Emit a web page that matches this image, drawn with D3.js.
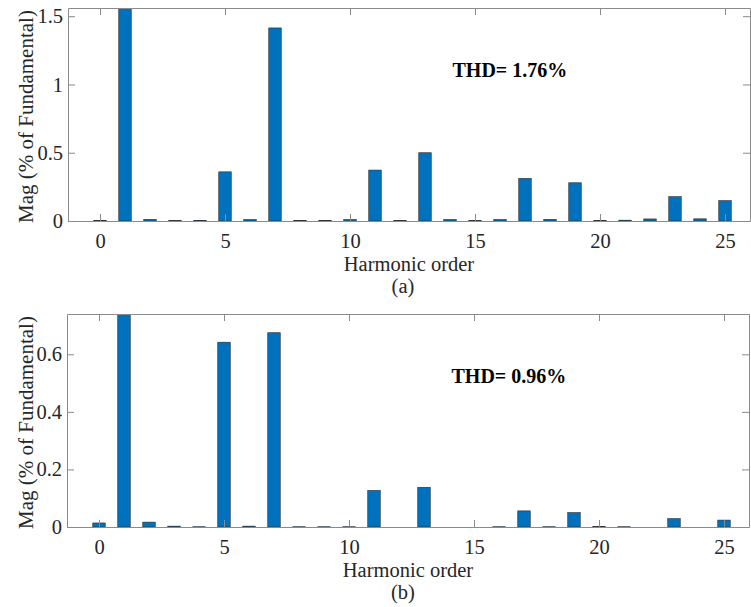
<!DOCTYPE html>
<html>
<head>
<meta charset="utf-8">
<script src="https://cdn.jsdelivr.net/npm/d3@7"></script>
<style>
  body { margin: 0; background: #fff; }
  svg text { font-family: 'Liberation Serif', 'DejaVu Serif', serif; fill: #262626; }
</style>
</head>
<body>
<div id="chart"></div>
<script>
// harmonic orders 0..25
var harmonics = d3.range(0, 26);

// (a) magnitude, % of fundamental (fundamental bar runs off the top)
var magA = [0.005, 100, 0.012, 0.003, 0.005, 0.36, 0.011, 1.414, 0.005, 0.005,
            0.011, 0.373, 0.003, 0.50, 0.011, 0.003, 0.011, 0.312, 0.012, 0.28,
            0.004, 0.006, 0.015, 0.178, 0.016, 0.149];

// (b) magnitude, % of fundamental
var magB = [0.014, 100, 0.017, 0.003, 0.001, 0.642, 0.003, 0.675, 0.001, 0.001,
            0.001, 0.127, 0.0, 0.138, 0.0, 0.0, 0.001, 0.056, 0.001, 0.050,
            0.002, 0.001, 0.0, 0.029, 0.0, 0.024];

var xTicks = [0, 5, 10, 15, 20, 25];
var yTicksA = [0, 0.5, 1, 1.5];
var yTicksB = [0, 0.2, 0.4, 0.6];
var thdA = "THD= 1.76%";
var thdB = "THD= 0.96%";

var svgWidth = 751;
var svgHeight = 607;

var svg = d3.select("#chart")
  .append("svg")
  .attr("width", svgWidth)
  .attr("height", svgHeight);

function drawPanel(cfg) {
  var left = cfg.left, right = cfg.right, top = cfg.top, bottom = cfg.bottom;

  var x = d3.scaleLinear()
    .domain([-1.28, 26])
    .range([left, right]);

  var y = d3.scaleLinear()
    .domain([0, cfg.ymax])
    .range([bottom, top]);

  var clipId = "clip-" + cfg.name;
  svg.append("clipPath")
    .attr("id", clipId)
    .append("rect")
    .attr("x", left)
    .attr("y", top)
    .attr("width", right - left)
    .attr("height", bottom - top);

  var barW = x(0.5) - x(0);

  svg.append("g")
    .attr("clip-path", "url(#" + clipId + ")")
    .selectAll("rect")
    .data(harmonics)
    .enter()
    .append("rect")
    .attr("x", d => x(d) - barW / 2)
    .attr("y", (d, i) => y(cfg.values[i]))
    .attr("width", barW)
    .attr("height", (d, i) => bottom - y(cfg.values[i]))
    .attr("fill", "#0072BD")
    .attr("stroke", "#2a2a2a")
    .attr("stroke-width", 0.6);

  // axes on top of the bars, ticks pointing inward
  var fmt = d => String(d);
  var bottomAxis = d3.axisBottom(x).tickValues(xTicks).tickFormat(fmt)
    .tickSizeInner(-7).tickSizeOuter(0).tickPadding(12);
  var topAxis = d3.axisTop(x).tickValues(xTicks)
    .tickSizeInner(-7).tickSizeOuter(0).tickFormat("");
  var leftAxis = d3.axisLeft(y).tickValues(cfg.yTicks).tickFormat(fmt)
    .tickSizeInner(-7).tickSizeOuter(0).tickPadding(5);
  var rightAxis = d3.axisRight(y).tickValues(cfg.yTicks)
    .tickSizeInner(-7).tickSizeOuter(0).tickFormat("");

  var axes = [
    svg.append("g").attr("transform", `translate(0, ${bottom})`).call(bottomAxis),
    svg.append("g").attr("transform", `translate(0, ${top})`).call(topAxis),
    svg.append("g").attr("transform", `translate(${left}, 0)`).call(leftAxis),
    svg.append("g").attr("transform", `translate(${right}, 0)`).call(rightAxis)
  ];
  axes.forEach(function(g) {
    g.attr("font-family", null).attr("font-size", null);
    g.selectAll("path, line").attr("stroke", "#8a8a8a").attr("stroke-width", 1);
    g.selectAll("text")
      .style("font-size", "20.5px")
      .attr("fill", "#262626");
  });

  svg.append("text")
    .attr("transform", `translate(33, ${(top + bottom) / 2 + 2}) rotate(-90)`)
    .attr("text-anchor", "middle")
    .style("font-size", "21px")
    .text("Mag (% of Fundamental)");

  svg.append("text")
    .attr("x", (left + right) / 2)
    .attr("y", bottom + 50)
    .attr("text-anchor", "middle")
    .style("font-size", "20.5px")
    .text("Harmonic order");

  svg.append("text")
    .attr("x", 403)
    .attr("y", bottom + 72)
    .attr("text-anchor", "middle")
    .style("font-size", "20.5px")
    .text(cfg.caption);

  svg.append("text")
    .attr("x", x(14.1))
    .attr("y", top + 69)
    .style("font-size", "20px")
    .style("font-weight", "bold")
    .style("fill", "#000")
    .text(cfg.thd);
}

drawPanel({ name: "a", values: magA, ymax: 1.56, yTicks: yTicksA,
  left: 68, right: 750, top: 8, bottom: 221, caption: "(a)", thd: thdA });

drawPanel({ name: "b", values: magB, ymax: 0.74, yTicks: yTicksB,
  left: 67, right: 749, top: 314, bottom: 527, caption: "(b)", thd: thdB });
</script>
</body>
</html>
